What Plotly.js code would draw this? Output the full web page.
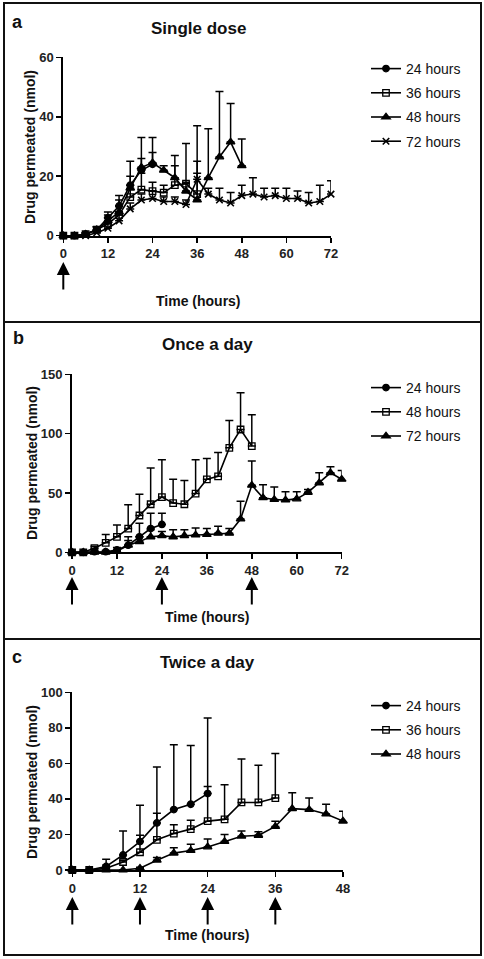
<!DOCTYPE html>
<html>
<head>
<meta charset="utf-8">
<script src="https://cdn.plot.ly/plotly-3.0.1.min.js"></script>
<style>html,body{margin:0;padding:0;background:#fff}#chart{width:484px;height:959px}</style>
</head>
<body>
<div id="chart"></div>
<script>
// ---------- DATA ----------
const timeHours = [0,3,6,9,12,15,18,21,24,27,30,33,36,39,42,45,48,51,54,57,60,63,66,69,72];

// Panel a: Single dose
const singleLabels = ["24 hours","36 hours","48 hours","72 hours"];
const single24 = [0,0,0.5,2,6,10,17,22,24];
const single24Err = [0,0,0.5,1,2,3.5,8,11,9];
const single36 = [0,0,0.5,2,4,7,13,15.5,15,14.5,17,17.5,14];
const single36Err = [0,0,0.5,1,2,3,4,5.5,3,2.5,10,13.5,11];
const single48 = [0,0,0.5,2,5,8,16,23,24.5,22,19.5,15,12,19.5,26.5,31.5,23.5];
const single48Err = [0,0,0.5,1,2,4,4,3,3.5,1.5,4,3,25,16.5,22,13,9];
const single72 = [0,0,0,1,2.5,5,9,12,12.5,11.5,11.5,10.5,19,14,12,11,13.5,14,13,13.5,12.5,12.5,11,11.5,14];
const single72Err = [0,0,0,0.5,1.5,2,2,2,2.5,1.5,1.5,1.5,2,2,4,3.5,3.5,5.5,3,2.5,3.5,2.5,3.5,5.5,4.5];

// Panel b: Once a day
const onceLabels = ["24 hours","48 hours","72 hours"];
const once24 = [0,0,0.5,0.5,2,6,13,20,23.5];
const once24Err = [0,0,0.5,1,2,4,11.5,13,9.5];
const once48 = [0,0,3.5,8,13,20,31,40.5,46.5,41.5,40.5,49.5,61.5,64,88,103.5,89.5];
const once48Err = [0,0,1.5,7,10,20,18,30.5,31.5,20,20,28.5,17.5,20,23,31,26.5];
const once72 = [0,0,0,0,1,6,9,13,14,13,14,14.5,15,16,16,28,56.5,46,44.5,44,45,50.5,58.5,67,61.5];
const once72Err = [0,0,0,0,1,7,4,6,3.5,6,5,6,5,6,4,15,20.5,11,10.5,7,6,2.5,8.5,5,7.5];

// Panel c: Twice a day
const twiceLabels = ["24 hours","36 hours","48 hours"];
const twice24 = [0,0,2,8.5,16,26.5,34,37,43];
const twice24Err = [0,0,4,13.5,20.5,31.5,36.5,33,42.5];
const twice36 = [0,0,1,4.5,10,17,20.5,23,27.5,28.5,38,38,40.5];
const twice36Err = [0,0,0.5,1,9.5,15,5,5,19.5,19.5,24.5,21,25];
const twice48 = [0,0,0,0,1,5.5,9.5,11,13,16,19,19.5,24.5,34.5,34,31.5,27.5];
const twice48Err = [0,0,0,0,0.5,1.5,3,3.5,4.5,4,3,2,3,9,6.5,5.5,5.5];

// Dosing times (arrows)
const doseSingle = [0];
const doseOnce = [0,24,48];
const doseTwice = [0,12,24,36];

// Axis ticks
const ticksX72 = [0,12,24,36,48,60,72];
const ticksX48 = [0,12,24,36,48];
const ticksYa = [0,20,40,60];
const ticksYb = [0,50,100,150];
const ticksYc = [0,20,40,60,80,100];

// ---------- STYLE ----------
const FONT = "Liberation Sans, Arial, sans-serif";
const W = 484, H = 959;
const px = v => v / W;
const py = v => 1 - v / H;

const symbols = {circle:"circle", square:"square-open", tri:"triangle-up", x:"x-thin-open"};

function series(name, y, err, sym, xa, ya, legend) {
  return {
    type: "scatter", mode: "lines+markers", name: name,
    x: timeHours.slice(0, y.length), y: y,
    xaxis: xa, yaxis: ya, legend: legend, legendgroup: legend + name,
    cliponaxis: false,
    line: {color: "#000", width: 1.6},
    marker: {symbol: symbols[sym], size: sym === "tri" ? 7.5 : 6.5, color: "#000",
             line: {color: "#000", width: sym === "x" ? 1.6 : 1.3}},
    error_y: {type: "data", symmetric: false, array: err, arrayminus: err.map(() => 0),
              color: "#000", thickness: 1.5, width: 4}
  };
}

const data = [
  series(singleLabels[0], single24, single24Err, "circle", "x", "y", "legend"),
  series(singleLabels[1], single36, single36Err, "square", "x", "y", "legend"),
  series(singleLabels[2], single48, single48Err, "tri", "x", "y", "legend"),
  series(singleLabels[3], single72, single72Err, "x", "x", "y", "legend"),
  series(onceLabels[0], once24, once24Err, "circle", "x2", "y2", "legend2"),
  series(onceLabels[1], once48, once48Err, "square", "x2", "y2", "legend2"),
  series(onceLabels[2], once72, once72Err, "tri", "x2", "y2", "legend2"),
  series(twiceLabels[0], twice24, twice24Err, "circle", "x3", "y3", "legend3"),
  series(twiceLabels[1], twice36, twice36Err, "square", "x3", "y3", "legend3"),
  series(twiceLabels[2], twice48, twice48Err, "tri", "x3", "y3", "legend3")
];

function xAxis(domain, range, ticks, anchor) {
  return {domain: domain, range: range, anchor: anchor, tickvals: ticks, ticktext: ticks.map(String),
    showline: true, linewidth: 2, linecolor: "#000", ticks: "outside", ticklen: 5, tickwidth: 1.5,
    tickcolor: "#000", showgrid: false, zeroline: false, fixedrange: true,
    tickfont: {family: FONT, size: 13, color: "#222", weight: "bold"}};
}
function yAxis(domain, range, ticks, anchor) {
  return {domain: domain, range: range, anchor: anchor, tickvals: ticks, ticktext: ticks.map(String),
    showline: true, linewidth: 2, linecolor: "#000", ticks: "outside", ticklen: 5, tickwidth: 1.5,
    tickcolor: "#000", showgrid: false, zeroline: false, fixedrange: true,
    tickfont: {family: FONT, size: 13, color: "#222", weight: "bold"}};
}

function legendAt(topPx) {
  return {x: px(366), y: py(topPx), xanchor: "left", yanchor: "top", bgcolor: "rgba(0,0,0,0)",
    font: {family: FONT, size: 14, color: "#111"}, traceorder: "grouped", tracegroupgap: 3,
    itemwidth: 30};
}

const annotations = [];
function text(t, x, y, size, bold, angle) {
  annotations.push({text: t, x: px(x), y: py(y), xref: "paper", yref: "paper", showarrow: false,
    xanchor: "center", yanchor: "middle", textangle: angle || 0,
    font: {family: FONT, size: size, color: "#111", weight: bold ? "bold" : "normal"}});
}
// panel letters and titles
text("a", 17, 22, 18, true); text("Single dose", 198, 29, 17, true);
text("b", 18, 338, 18, true); text("Once a day", 207, 344, 17, true);
text("c", 17, 657, 18, true); text("Twice a day", 207, 662, 17, true);
// axis titles
text("Time (hours)", 198, 301, 14, true);
text("Time (hours)", 207, 617, 14, true);
text("Time (hours)", 207, 935, 14, true);
text("Drug permeated (nmol)", 30, 147, 14, true, -90);
text("Drug permeated (nmol)", 32, 463, 14, true, -90);
text("Drug permeated (nmol)", 32, 782, 14, true, -90);

function arrows(times, xref, tipPx) {
  times.forEach(t => annotations.push({x: t, xref: xref, y: py(tipPx), yref: "paper", text: "",
    showarrow: true, ax: 0, ay: 29, arrowhead: 2, arrowsize: 1.3, arrowwidth: 2, arrowcolor: "#000",
    standoff: 0, startstandoff: 0}));
}
arrows(doseSingle, "x", 262);
arrows(doseOnce, "x2", 577);
arrows(doseTwice, "x3", 897);

const shapes = [
  {type: "rect", xref: "paper", yref: "paper", x0: px(4), x1: px(481), y0: py(955), y1: py(3),
   line: {color: "#111", width: 2}},
  {type: "line", xref: "paper", yref: "paper", x0: px(4), x1: px(481), y0: py(322), y1: py(322),
   line: {color: "#111", width: 2}},
  {type: "line", xref: "paper", yref: "paper", x0: px(4), x1: px(481), y0: py(639), y1: py(639),
   line: {color: "#111", width: 2}}
];

const layout = {
  width: W, height: H, margin: {l: 0, r: 0, t: 0, b: 0},
  paper_bgcolor: "#fff", plot_bgcolor: "#fff", showlegend: true,
  font: {family: FONT, color: "#111"},
  xaxis: xAxis([px(63.3), px(331)], [0, 72], ticksX72, "y"),
  yaxis: yAxis([py(235.7), py(57.3)], [0, 60], ticksYa, "x"),
  xaxis2: xAxis([px(72), px(341.7)], [0, 72], ticksX72, "y2"),
  yaxis2: yAxis([py(552.3), py(374.3)], [0, 150], ticksYb, "x2"),
  xaxis3: xAxis([px(72.3), px(343)], [0, 48], ticksX48, "y3"),
  yaxis3: yAxis([py(870), py(692.3)], [0, 100], ticksYc, "x3"),
  legend: legendAt(53),
  legend2: legendAt(372),
  legend3: legendAt(690),
  annotations: annotations,
  shapes: shapes
};

Plotly.newPlot("chart", data, layout, {displayModeBar: false, staticPlot: true});
</script>
</body>
</html>
